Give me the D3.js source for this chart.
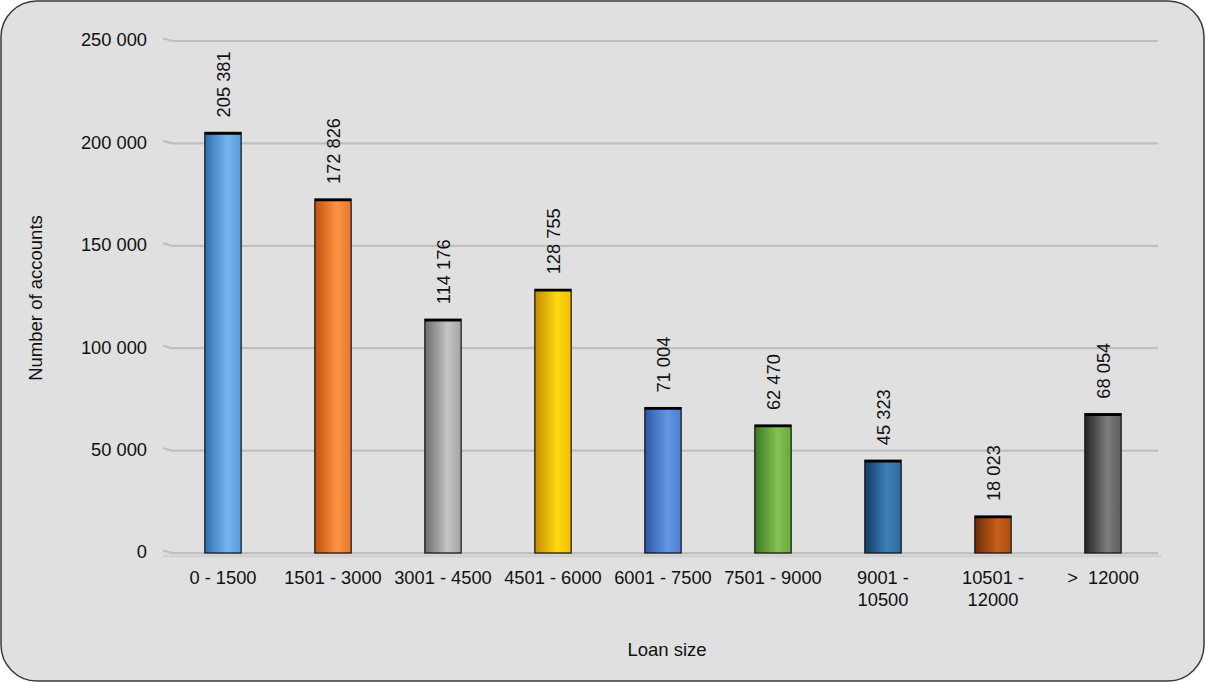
<!DOCTYPE html>
<html>
<head>
<meta charset="utf-8">
<script src="https://cdn.jsdelivr.net/npm/d3@7"></script>
<style>
  html, body { margin: 0; padding: 0; background: #ffffff; }
  svg text { font-family: "Liberation Sans", Arial, Helvetica, sans-serif; fill: #111; }
</style>
</head>
<body>
<svg id="chart" width="1205" height="682"></svg>
<script>
// Loan size bands and number of accounts in each
const categories = ["0 - 1500", "1501 - 3000", "3001 - 4500", "4501 - 6000", "6001 - 7500",
                    "7501 - 9000", "9001 -\n10500", "10501 -\n12000", ">  12000"];
const accounts = [205381, 172826, 114176, 128755, 71004, 62470, 45323, 18023, 68054];
const yTicks = [0, 50000, 100000, 150000, 200000, 250000];
// Bar fill: [edge shade, highlight, right shade]
const barShades = [
  ["#2f6eae", "#74b6f0", "#5a9ad8"],
  ["#c2520f", "#ff9444", "#e8762c"],
  ["#6c6c6c", "#c4c4c4", "#a4a4a4"],
  ["#c48c00", "#ffd810", "#f0c000"],
  ["#2a58a6", "#6496e6", "#4c7ed0"],
  ["#3e7a22", "#84c254", "#6aa83e"],
  ["#123d68", "#3f80ba", "#2c6aa0"],
  ["#6e2a06", "#c8601c", "#a84c12"],
  ["#252525", "#7c7c7c", "#5e5e5e"]
];

const svg = d3.select("#chart");
const W = 1205, H = 682;
const FS = "18.3px";

// Panel background with rounded frame
svg.append("rect")
  .attr("x", 1).attr("y", 1).attr("width", W - 2).attr("height", H - 2)
  .attr("rx", 36).attr("ry", 36)
  .attr("fill", "#e0e0e0").attr("stroke", "#3a3a3a").attr("stroke-width", 1.5);

const x = d3.scaleBand().domain(categories).range([168, 1158])
  .paddingInner(0.67).paddingOuter(0.335);
const y = d3.scaleLinear().domain([0, 250000]).range([553, 41]);

// Gradients for the cylinder-like bars
const defs = svg.append("defs");
barShades.forEach((s, i) => {
  const g = defs.append("linearGradient").attr("id", "barGrad" + i)
    .attr("x1", "0%").attr("x2", "100%").attr("y1", "0%").attr("y2", "0%");
  g.append("stop").attr("offset", "0%").attr("stop-color", s[0]);
  g.append("stop").attr("offset", "62%").attr("stop-color", s[1]);
  g.append("stop").attr("offset", "100%").attr("stop-color", s[2]);
});

// Floor under the bars
svg.append("path")
  .attr("d", `M163,${y(0) + 3} L172,${y(0)} L1158,${y(0)} L1162,${y(0) + 3} Z`)
  .attr("fill", "#d6d6d6");
svg.append("line")
  .attr("x1", 163).attr("x2", 1162).attr("y1", y(0) + 3.5).attr("y2", y(0) + 3.5)
  .attr("stroke", "#d0d0d0").attr("stroke-width", 1.5);

// Gridlines with a short receding stub at the back wall
const grid = svg.append("g");
yTicks.forEach(t => {
  const yy = y(t);
  grid.append("path")
    .attr("d", `M163,${yy - 2.5} L172,${yy} L1158,${yy}`)
    .attr("fill", "none").attr("stroke", "#bfbfbf").attr("stroke-width", 2.2);
});

// Y axis tick labels
const yAxis = d3.axisLeft(y).tickValues(yTicks).tickSize(0).tickPadding(0)
  .tickFormat(d => d3.format(",")(d).replace(/,/g, " "));
const yG = svg.append("g").attr("transform", "translate(147,-1)").call(yAxis);
yG.select(".domain").remove();
yG.selectAll("text").style("font-size", FS).style("font-family", "Liberation Sans, Arial, sans-serif").attr("fill", "#111");

// Bars
const bars = svg.append("g");
categories.forEach((c, i) => {
  const x0 = x(c), bw = x.bandwidth(), top = y(accounts[i]);
  bars.append("rect")
    .attr("x", x0).attr("y", top).attr("width", bw).attr("height", y(0) - top)
    .attr("fill", `url(#barGrad${i})`).attr("stroke", "#111").attr("stroke-width", 1.2);
  bars.append("line")
    .attr("x1", x0).attr("x2", x0 + bw).attr("y1", top + 1).attr("y2", top + 1)
    .attr("stroke", "#000").attr("stroke-width", 2.5);
});

// Value labels, rotated
const fmt = v => d3.format(",")(v).replace(/,/g, " ");
categories.forEach((c, i) => {
  const cx = x(c) + x.bandwidth() / 2, top = y(accounts[i]);
  svg.append("text")
    .attr("transform", `translate(${cx + 7},${top - 15}) rotate(-90)`)
    .attr("text-anchor", "start")
    .style("font-size", FS)
    .text(fmt(accounts[i]));
});

// Category labels (may wrap onto two lines)
const xG = svg.append("g");
categories.forEach(c => {
  const cx = x(c) + x.bandwidth() / 2;
  const t = xG.append("text").attr("text-anchor", "middle")
    .attr("x", cx).attr("y", 584)
    .style("font-size", FS).style("white-space", "pre");
  c.split("\n").forEach((line, k) => {
    t.append("tspan").attr("x", cx).attr("dy", k === 0 ? 0 : 22).text(line);
  });
});

// Axis titles
svg.append("text")
  .attr("x", 667).attr("y", 656).attr("text-anchor", "middle")
  .style("font-size", "18.5px").text("Loan size");
svg.append("text")
  .attr("transform", "translate(42,298) rotate(-90)").attr("text-anchor", "middle")
  .style("font-size", "18.5px").text("Number of accounts");
</script>
</body>
</html>
